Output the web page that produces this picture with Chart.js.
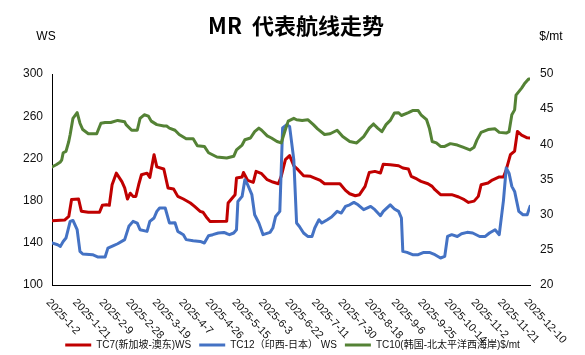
<!DOCTYPE html>
<html>
<head>
<meta charset="utf-8">
<script src="https://cdn.jsdelivr.net/npm/chart.js@4.4.0/dist/chart.umd.min.js"></script>
<style>
html,body{margin:0;padding:0;background:#fff;}
#wrap{width:585px;height:355px;position:relative;}
</style>
</head>
<body>
<div id="wrap"><canvas id="c" width="585" height="355"></canvas></div>
<script>
// ---------- data ----------
const chartTitle = 'MR  代表航线走势';
const leftUnit = 'WS';
const rightUnit = '$/mt';
const seriesNames = ['TC7(新加坡-澳东)WS', 'TC12（印西-日本） WS', 'TC10(韩国-北太平洋西海岸)$/mt'];
const tickLabels = ['2025-1-2','2025-1-21','2025-2-9','2025-2-28','2025-3-19','2025-4-7','2025-4-26','2025-5-15','2025-6-3','2025-6-22','2025-7-11','2025-7-30','2025-8-18','2025-9-6','2025-9-25','2025-10-14','2025-11-2','2025-11-21','2025-12-10'];

const tc7Dates = ['1-2','1-11','1-14','1-16','1-21','1-23','1-28','2-5','2-7','2-10','2-12','2-14','2-17','2-21','2-23','2-25','2-27','3-1','3-3','3-5','3-7','3-11','3-13','3-16','3-18','3-23','3-26','3-30','4-2','4-6','4-11','4-14','4-18','4-20','4-23','4-25','5-7','5-8','5-11','5-13','5-14','5-18','5-19','5-22','5-26','5-28','6-1','6-5','6-9','6-13','6-15','6-18','6-21','6-24','6-27','7-1','7-6','7-9','7-13','7-16','7-27','7-31','8-3','8-7','8-10','8-14','8-17','8-21','8-25','8-27','9-1','9-7','9-10','9-14','9-16','9-20','9-23','9-28','10-1','10-3','10-7','10-15','10-20','10-24','10-27','10-31','11-3','11-5','11-10','11-13','11-18','11-21','11-23','11-26','11-29','12-1','12-4','12-8','12-10'];
const tc7Values = [161,161.5,165,181,181.5,170,169,169,175.5,176,175.5,195,206,198,192,181.5,187,184,184,195,204.5,206,202,223.5,212,210,192,191,184,181.5,177.7,174.5,169.8,169,163.5,160.3,160.5,177.7,182.5,185.6,201.4,202.4,206.7,199.1,197.3,207.7,205.5,199.8,197.6,196,203,218.8,222.6,213,209.3,203.6,203,201.4,199.1,196,196,189.7,186.5,184.6,185.6,193.5,206.7,207.7,206.2,214.5,214,213,210.9,210,203,200.5,198.2,196,193.5,190.3,185.6,185.6,183.4,180.9,178.3,179.5,184,195,196.7,199.5,202.4,202.4,209.3,223.5,227,245.6,242,239.5,239.3];

const tc12Dates = ['1-2','1-6','1-8','1-10','1-12','1-15','1-17','1-20','1-22','1-24','1-31','2-4','2-9','2-11','2-15','2-18','2-23','2-26','3-1','3-4','3-6','3-11','3-13','3-16','3-18','3-20','3-24','3-27','3-31','4-2','4-6','4-8','4-13','4-18','4-21','4-24','4-27','5-1','5-5','5-7','5-9','5-12','5-14','5-15','5-18','5-20','5-22','5-25','5-27','5-30','6-2','6-7','6-9','6-11','6-14','6-16','6-19','6-21','6-24','6-26','6-28','7-1','7-4','7-7','7-9','7-12','7-14','7-18','7-21','7-25','7-28','7-31','8-3','8-6','8-9','8-13','8-18','8-21','8-25','8-27','9-1','9-4','9-7','9-9','9-10','9-13','9-17','9-21','9-25','9-29','10-3','10-7','10-10','10-12','10-15','10-19','10-22','10-26','10-30','11-4','11-8','11-11','11-15','11-18','11-21','11-23','11-25','11-27','11-29','12-2','12-5','12-8','12-10'];
const tc12Values = [139.8,138.2,136.6,141.3,144.5,160.3,161.2,152.4,131.9,129.4,128.7,126.5,126.5,135,137.3,139.1,143,155.6,160.3,158.7,152.4,150.8,160.3,163.5,169.8,173,173,158.8,159,150.8,147.7,143,142,141.3,139.8,146.7,147.7,149.3,149.8,148.8,147.7,149.3,152.4,179.2,184,199.8,195,185.6,166.6,158.8,147.7,149.9,154,165,169.8,248.8,252,250.3,218.8,158.8,155.5,149.3,146,146,154,161.9,158.8,161.9,164.4,169.8,168.2,174.5,176,178.3,176,171.4,174.5,171.4,165.7,169.8,176,172,169.8,163.5,131.9,130.9,128.7,128.7,130.9,130.9,128.7,125.6,127.1,146,147.7,146,148.6,149.9,149.3,146,146,149.3,152.4,147.7,180,210.9,206,193.5,188.7,169.8,166.6,166.6,174.5];

const tc10Dates = ['1-2','1-5','1-8','1-9','1-10','1-12','1-14','1-15','1-17','1-20','1-22','1-24','1-28','2-3','2-6','2-9','2-13','2-18','2-23','2-24','2-28','3-4','3-6','3-9','3-12','3-14','3-18','3-23','3-25','3-27','3-31','4-3','4-8','4-13','4-16','4-21','4-24','4-30','5-7','5-12','5-14','5-18','5-20','5-24','5-27','5-30','6-1','6-5','6-8','6-12','6-15','6-18','6-20','6-24','6-26','6-30','7-4','7-8','7-11','7-16','7-20','7-25','7-29','8-3','8-8','8-13','8-17','8-20','8-23','8-26','8-29','9-1','9-4','9-7','9-9','9-14','9-17','9-21','9-23','9-27','9-29','10-1','10-4','10-7','10-10','10-14','10-19','10-23','10-28','10-31','11-2','11-5','11-10','11-15','11-18','11-23','11-25','11-27','11-29','11-30','12-4','12-6','12-9','12-10'];
const tc10Values = [36.8,37.1,37.5,37.8,38.8,39.0,40.4,41.4,43.7,44.5,43.0,42.1,41.5,41.5,43.0,43.1,43.1,43.4,43.2,42.8,42.0,42.0,43.7,44.2,44.0,43.3,42.8,42.6,42.6,42.3,42.0,41.4,40.8,40.8,39.8,39.7,38.8,38.2,38.05,38.3,39.2,39.9,40.65,40.9,41.8,42.3,42.0,41.2,40.9,40.4,40.2,42.1,43.3,43.7,43.5,43.4,43.5,42.8,42.2,41.4,41.5,42.0,41.1,40.4,40.2,41.1,42.3,42.9,42.3,41.8,42.8,43.4,44.45,44.5,44.1,44.5,44.8,44.8,44.2,43.5,42.3,40.4,40.2,39.7,39.7,40.1,39.9,39.6,39.2,39.6,40.6,41.7,42.1,42.2,41.7,41.6,41.8,44.2,44.9,47.0,48.0,48.6,49.3,49.3];

// ---------- helpers ----------
const BASE = Date.UTC(2025, 0, 2);
function dayOf(md) {
  const p = md.split('-').map(Number);
  return Math.round((Date.UTC(2025, p[0] - 1, p[1]) - BASE) / 864e5);
}
function pts(dates, vals) { return dates.map((d, i) => ({ x: dayOf(d), y: vals[i] })); }
const firstDay = dayOf(tickLabels[0].slice(5));
const lastDay = dayOf(tickLabels[tickLabels.length - 1].slice(5));

const FONT = '"Liberation Sans", "Noto Sans CJK SC", sans-serif';
const colors = ['#C00000', '#4472C4', '#548235'];

const decor = {
  id: 'decor',
  afterDraw(chart) {
    const ctx = chart.ctx, xs = chart.scales.x, area = chart.chartArea;
    ctx.save();
    ctx.fillStyle = '#000';
    ctx.textAlign = 'center';
    ctx.textBaseline = 'middle';
    ctx.font = 'bold 22px "Noto Sans CJK SC", sans-serif';
    ctx.fillText(chartTitle, 296, 26);
    ctx.font = '12px ' + FONT;
    ctx.fillText(leftUnit, 46, 37);
    ctx.fillText(rightUnit, 551, 37);
    ctx.font = '11px ' + FONT;
    ctx.textAlign = 'left';
    ctx.textBaseline = 'top';
    ctx.fillStyle = '#111';
    tickLabels.forEach(l => {
      const px = xs.getPixelForValue(dayOf(l.slice(5)));
      ctx.save();
      ctx.translate(px, area.bottom + 12);
      ctx.rotate(47 * Math.PI / 180);
      ctx.fillText(l, 0, 0);
      ctx.restore();
    });
    ctx.restore();
  }
};

const mk = (i, data, axis, order) => ({
  label: seriesNames[i], data, yAxisID: axis, order,
  borderColor: colors[i], backgroundColor: colors[i],
  borderWidth: 3, pointRadius: 0, tension: 0,
  borderJoinStyle: 'round', borderCapStyle: 'round'
});

new Chart(document.getElementById('c'), {
  type: 'line',
  data: {
    datasets: [
      mk(0, pts(tc7Dates, tc7Values), 'y', 3),
      mk(1, pts(tc12Dates, tc12Values), 'y', 2),
      mk(2, pts(tc10Dates, tc10Values), 'y1', 1)
    ]
  },
  options: {
    responsive: false,
    animation: false,
    events: [],
    layout: { padding: { top: 74, bottom: -5, left: 0, right: 0 } },
    plugins: {
      title: { display: false },
      tooltip: { enabled: false },
      legend: {
        position: 'bottom',
        labels: {
          boxWidth: 26, boxHeight: 3, padding: 8,
          color: '#111',
          font: { size: 10, family: FONT },
          generateLabels: chart => chart.data.datasets.map((ds, i) => ({
            text: ds.label, fillStyle: ds.borderColor, strokeStyle: ds.borderColor,
            lineWidth: 0, hidden: false, datasetIndex: i, fontColor: '#111'
          }))
        }
      }
    },
    scales: {
      x: {
        type: 'linear', min: firstDay, max: lastDay,
        grid: { display: false, drawTicks: false },
        border: { display: true, color: '#000', width: 1 },
        ticks: { display: false },
        afterFit: s => { s.height = 47; }
      },
      y: {
        position: 'left', min: 100, max: 300,
        grid: { display: false, drawTicks: false },
        border: { display: true, color: '#000', width: 1 },
        ticks: { stepSize: 40, padding: 9, color: '#111', font: { size: 12, family: FONT } },
        afterFit: s => { s.width = 52; }
      },
      y1: {
        position: 'right', min: 20, max: 50,
        grid: { display: false, drawTicks: false },
        border: { display: false },
        ticks: { stepSize: 5, padding: 10, color: '#111', font: { size: 12, family: FONT } },
        afterFit: s => { s.width = 55; }
      }
    }
  },
  plugins: [decor]
});
</script>
</body>
</html>
